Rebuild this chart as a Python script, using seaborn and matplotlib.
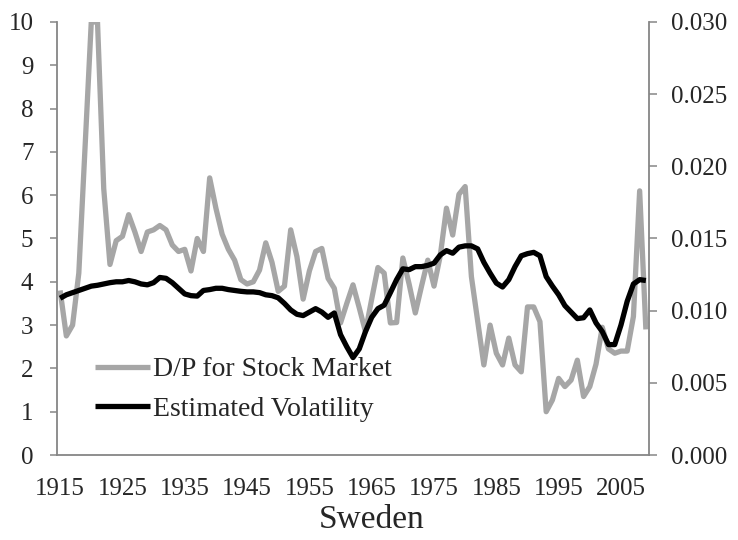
import numpy as np
import pandas as pd
import matplotlib
matplotlib.use("Agg")
import matplotlib.pyplot as plt
from matplotlib.ticker import FormatStrFormatter
import seaborn as sns

# --- data (one value per year) ---
years = list(range(1915, 2010))

dp_stock = [
    3.8, 2.75, 3.0, 4.2, 7.1, 10.0, 10.0, 6.15, 4.4, 4.95,      # 1915-1924
    5.05, 5.55, 5.15, 4.7, 5.15, 5.2, 5.3, 5.2, 4.85, 4.7,      # 1925-1934
    4.75, 4.25, 5.0, 4.7, 6.4, 5.7, 5.1, 4.75, 4.5, 4.05,       # 1935-1944
    3.95, 4.0, 4.27, 4.9, 4.45, 3.78, 3.9, 5.2, 4.58, 3.6,      # 1945-1954
    4.25, 4.7, 4.77, 4.08, 3.85, 3.05, 3.5, 3.93, 3.4, 2.85,    # 1955-1964
    3.6, 4.33, 4.2, 3.05, 3.06, 4.55, 3.95, 3.28, 3.9, 4.5,     # 1965-1974
    3.9, 4.6, 5.7, 5.08, 6.02, 6.2, 4.12, 3.1, 2.08, 3.0,       # 1975-1984
    2.35, 2.08, 2.7, 2.08, 1.92, 3.42, 3.42, 3.08, 1.0, 1.27,   # 1985-1994
    1.77, 1.58, 1.73, 2.19, 1.35, 1.58, 2.1, 2.95, 2.45, 2.35,  # 1995-2004
    2.4, 2.4, 3.2, 6.1, 2.9,                                    # 2005-2009
]

est_vol = [
    0.01086, 0.0111, 0.01125, 0.0114, 0.01155, 0.0117, 0.01176, 0.01185, 0.01194, 0.0120,      # 1915-1924
    0.0120, 0.01209, 0.0120, 0.01185, 0.01179, 0.01194, 0.0123, 0.01224, 0.01194, 0.01155,     # 1925-1934
    0.01116, 0.01104, 0.01101, 0.0114, 0.01146, 0.01155, 0.01155, 0.01146, 0.0114, 0.01134,    # 1935-1944
    0.0113, 0.0113, 0.01125, 0.0111, 0.01104, 0.01089, 0.0105, 0.01005, 0.00975, 0.00966,      # 1945-1954
    0.0099, 0.01014, 0.0099, 0.00954, 0.00984, 0.00834, 0.0075, 0.00675, 0.00735, 0.00855,     # 1955-1964
    0.00954, 0.01014, 0.01038, 0.01125, 0.01215, 0.0129, 0.01284, 0.01305, 0.01305, 0.01314,   # 1965-1974
    0.01329, 0.01386, 0.01416, 0.01398, 0.0144, 0.01449, 0.01449, 0.01428, 0.01335, 0.0126,    # 1975-1984
    0.01191, 0.01164, 0.01215, 0.01305, 0.0138, 0.01395, 0.01404, 0.0138, 0.01236, 0.0117,     # 1985-1994
    0.0111, 0.01035, 0.0099, 0.00945, 0.00951, 0.01005, 0.00915, 0.00855, 0.00765, 0.00765,    # 1995-2004
    0.009, 0.01065, 0.01185, 0.01215, 0.01209,                                                 # 2005-2009
]

df = pd.DataFrame({"year": years, "dp": dp_stock, "vol": est_vol})

# --- style ---
sns.set_style("white")
plt.rcParams['font.family'] = ['Liberation Serif', 'DejaVu Serif']

GRAY = "#A6A6A6"
AXIS = "#868686"

fig = plt.figure(figsize=(7.38, 5.40), dpi=100)
ax = fig.add_axes([57 / 738, 85 / 540, 592 / 738, 433 / 540])
ax2 = ax.twinx()

sns.lineplot(data=df, x="year", y="dp", ax=ax, color=GRAY, linewidth=3.8,
             label="D/P for Stock Market", legend=False,
             solid_joinstyle="round", solid_capstyle="butt")
sns.lineplot(data=df, x="year", y="vol", ax=ax2, color="black", linewidth=3.8,
             label="Estimated Volatility", legend=False,
             solid_joinstyle="round", solid_capstyle="butt")

# --- axes ---
ax.set_xlim(1914.5, 2009.5)
ax.set_ylim(0, 10)
ax2.set_ylim(0, 0.030)

ax.set_xticks(range(1915, 2006, 10))
ax.set_xticks(np.arange(1914.5, 2010, 5), minor=True)
ax.set_yticks(range(0, 11))
ax2.set_yticks(np.arange(0, 0.0301, 0.005))
ax2.yaxis.set_major_formatter(FormatStrFormatter('%.3f'))

ax.tick_params(axis='x', which='major', length=0, pad=16.5, labelsize=18)
ax.tick_params(axis='x', which='minor', length=5, width=1.1, color=AXIS, direction='out')
ax.tick_params(axis='y', length=5, width=1.1, color=AXIS, direction='out', pad=12, labelsize=18)
ax2.tick_params(axis='y', length=5.5, width=1.1, color=AXIS, direction='out', pad=10, labelsize=18)

for side in ["top", "right"]:
    ax.spines[side].set_visible(False)
for side in ["top", "left", "bottom"]:
    ax2.spines[side].set_visible(False)
for sp in [ax.spines["left"], ax.spines["bottom"], ax2.spines["right"]]:
    sp.set_color(AXIS)
    sp.set_linewidth(1.3)

ax.set_ylabel("")
ax2.set_ylabel("")
ax.set_xlabel("Sweden", fontsize=24)
ax.xaxis.set_label_coords((372 - 57) / 592, -0.114)

# --- legend ---
h1, l1 = ax.get_legend_handles_labels()
h2, l2 = ax2.get_legend_handles_labels()
ax2.legend(h1 + h2, l1 + l2, loc="center left", bbox_to_anchor=(0.064, 0.152),
           frameon=False, fontsize=20, handlelength=2.0, handletextpad=0.1,
           borderpad=0, borderaxespad=0, labelspacing=0.5)

fig.savefig("out.png", dpi=100)
